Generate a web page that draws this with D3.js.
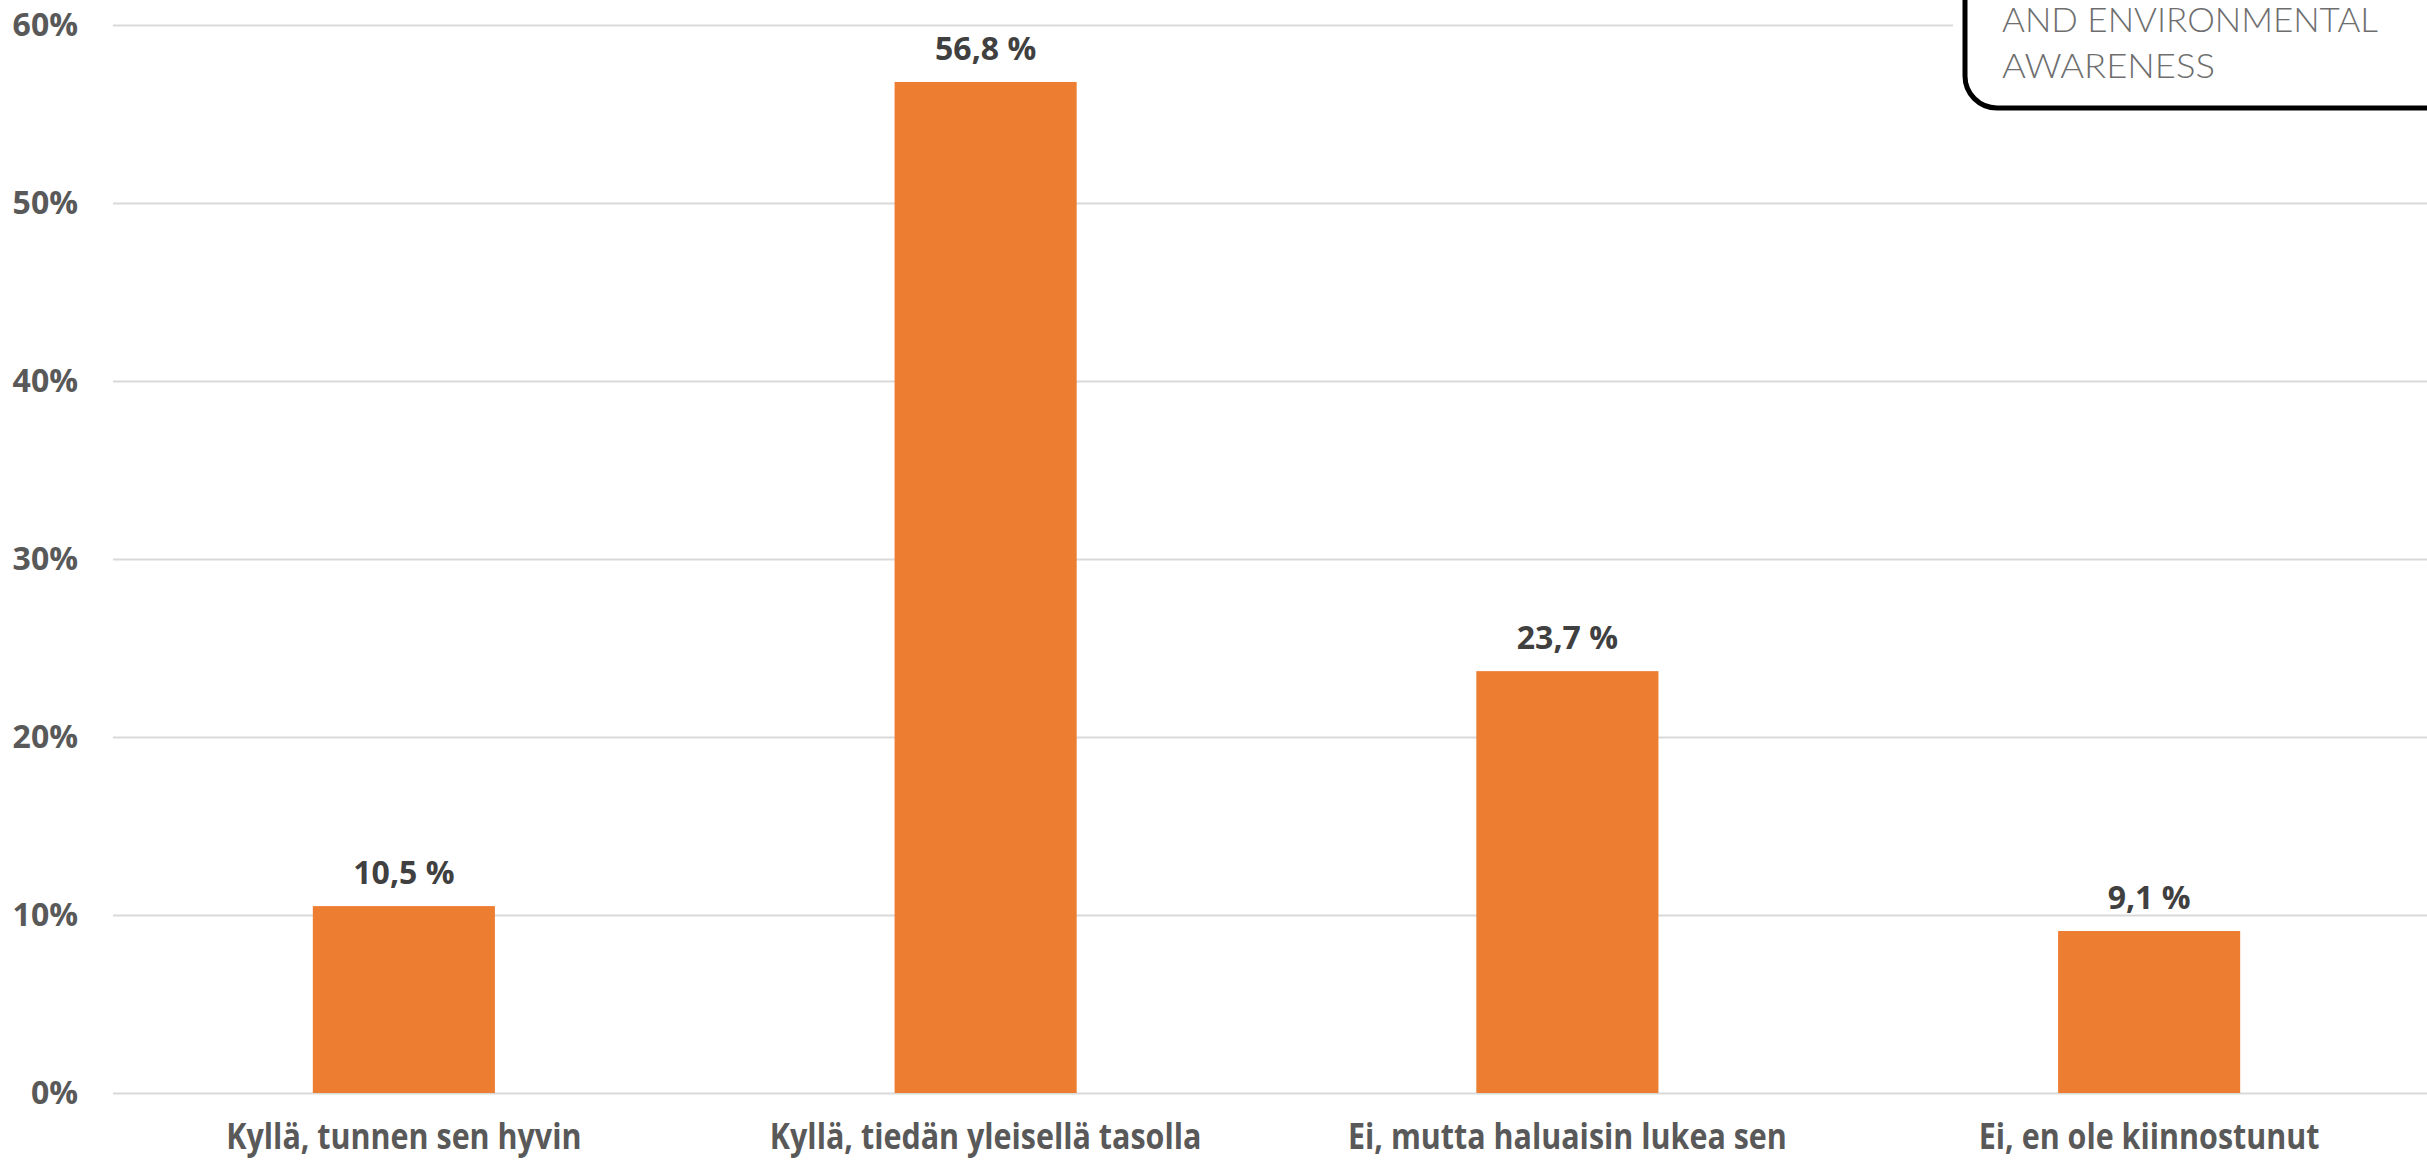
<!DOCTYPE html>
<html>
<head>
<meta charset="utf-8">
<script src="https://cdn.jsdelivr.net/npm/d3@7"></script>
<style>
  html, body { margin: 0; padding: 0; background: #fff; overflow: hidden; }
  text { font-family: "Open Sans", "Noto Sans", sans-serif; }
</style>
</head>
<body>
<div id="chart"></div>
<script>
// chart values
var categories = ["Kyllä, tunnen sen hyvin", "Kyllä, tiedän yleisellä tasolla", "Ei, mutta haluaisin lukea sen", "Ei, en ole kiinnostunut"];
var values = [10.5, 56.8, 23.7, 9.1];
var valueLabels = ["10,5 %", "56,8 %", "23,7 %", "9,1 %"];
var yTicks = [0, 10, 20, 30, 40, 50, 60];
var logoLines = ["AND ENVIRONMENTAL", "AWARENESS"];

var W = 2427, H = 1162;
var margin = {top: 25, left: 113, bottom: 69};

var svg = d3.select("#chart")
  .append("svg")
    .attr("width", W)
    .attr("height", H);

var x = d3.scaleBand()
    .domain(categories)
    .range([margin.left, 2440])
    .paddingInner(0.687)
    .paddingOuter(0.3435);

var y = d3.scaleLinear()
    .domain([0, 60])
    .range([H - margin.bottom, margin.top]);

// gridlines + y labels
var yAxis = svg.append("g")
    .attr("transform", "translate(" + margin.left + ",0)")
    .call(d3.axisLeft(y)
      .tickValues(yTicks)
      .tickSize(-(W - margin.left))
      .tickPadding(35)
      .tickFormat(function(d) { return d + "%"; }));
yAxis.select(".domain").remove();
yAxis.selectAll("line")
    .attr("stroke", "#d9d9d9")
    .attr("stroke-width", 2);
yAxis.selectAll("text")
    .attr("fill", "#595959")
    .style("font-size", "32px")
    .style("font-weight", "bold")
    .style("font-family", "'Open Sans', sans-serif");

// bars
svg.selectAll("rect.bar")
  .data(values)
  .enter()
  .append("rect")
    .attr("class", "bar")
    .attr("x", function(d, i) { return x(categories[i]); })
    .attr("width", x.bandwidth())
    .attr("y", function(d) { return y(d); })
    .attr("height", function(d) { return y(0) - y(d); })
    .attr("fill", "#ed7d31");

// value labels
svg.selectAll("text.val")
  .data(values)
  .enter()
  .append("text")
    .attr("class", "val")
    .attr("x", function(d, i) { return x(categories[i]) + x.bandwidth() / 2; })
    .attr("y", function(d) { return y(d) - 22; })
    .attr("text-anchor", "middle")
    .attr("fill", "#404040")
    .style("font-size", "32px")
    .style("font-weight", "bold")
    .text(function(d, i) { return valueLabels[i]; });

// category labels (squeezed a bit, the original font is narrower)
svg.selectAll("text.cat")
  .data(categories)
  .enter()
  .append("text")
    .attr("class", "cat")
    .attr("transform", function(d) {
      return "translate(" + (x(d) + x.bandwidth() / 2) + ",1149) scale(0.87,1)";
    })
    .attr("text-anchor", "middle")
    .attr("fill", "#595959")
    .style("font-size", "35px")
    .style("font-weight", "bold")
    .text(function(d) { return d; });

// logo box in the top right corner
var logo = svg.append("g");
logo.append("rect")
    .attr("x", 1953).attr("y", 0)
    .attr("width", W - 1953).attr("height", 120)
    .attr("fill", "#fff");
logo.append("rect")
    .attr("x", 1965).attr("y", -60)
    .attr("width", 600).attr("height", 168)
    .attr("rx", 32).attr("ry", 32)
    .attr("fill", "#fff")
    .attr("stroke", "#000")
    .attr("stroke-width", 5);
logo.selectAll("text")
  .data(logoLines)
  .enter()
  .append("text")
    .attr("x", 2002)
    .attr("y", function(d, i) { return 32 + i * 46; })
    .attr("fill", "#6e6e6e")
    .attr("textLength", function(d, i) { return i == 0 ? 376 : 213; })
    .attr("lengthAdjust", "spacingAndGlyphs")
    .style("font-family", "Lato, 'Open Sans', sans-serif")
    .style("font-weight", 300)
    .style("font-size", "33px")
    .text(function(d) { return d; });
</script>
</body>
</html>
